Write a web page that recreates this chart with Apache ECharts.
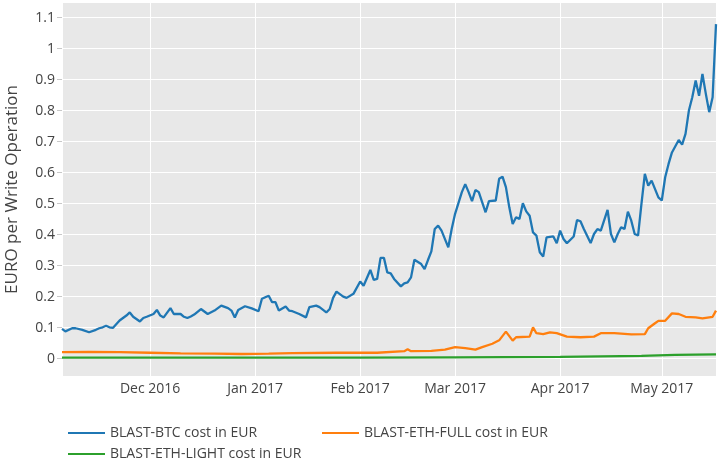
<!DOCTYPE html>
<html lang="en">
<head>
<meta charset="UTF-8">
<title>BLAST cost per write operation</title>
<script src="https://cdn.jsdelivr.net/npm/echarts@6/dist/echarts.min.js"></script>
<style>
    html, body { margin: 0; padding: 0; background: #fff; }
    #main { width: 721px; height: 462px; }
</style>
</head>
<body>
<div id="main"></div>
<script type="text/javascript">
    // BLAST-BTC cost in EUR
    var btcDates = [
        '2016-11-05','2016-11-06','2016-11-08','2016-11-09','2016-11-11','2016-11-13','2016-11-15','2016-11-16','2016-11-17','2016-11-18',
        '2016-11-19','2016-11-20','2016-11-22','2016-11-24','2016-11-25','2016-11-26','2016-11-28','2016-11-29','2016-11-30',
        '2016-12-02','2016-12-03','2016-12-04','2016-12-05','2016-12-07','2016-12-08','2016-12-10','2016-12-11','2016-12-12','2016-12-13',
        '2016-12-14','2016-12-16','2016-12-18','2016-12-20','2016-12-22','2016-12-24','2016-12-25','2016-12-26','2016-12-27','2016-12-29','2016-12-31',
        '2017-01-02','2017-01-03','2017-01-05','2017-01-06','2017-01-07','2017-01-08','2017-01-10','2017-01-11','2017-01-12','2017-01-14',
        '2017-01-16','2017-01-17','2017-01-19','2017-01-20','2017-01-22','2017-01-23','2017-01-24','2017-01-25','2017-01-27','2017-01-28','2017-01-30',
        '2017-02-01','2017-02-02','2017-02-04','2017-02-05','2017-02-06','2017-02-07','2017-02-08','2017-02-09','2017-02-10','2017-02-11',
        '2017-02-13','2017-02-14','2017-02-15','2017-02-16','2017-02-17','2017-02-19','2017-02-20','2017-02-21','2017-02-22','2017-02-23',
        '2017-02-24','2017-02-25','2017-02-27','2017-02-28',
        '2017-03-01','2017-03-03','2017-03-04','2017-03-05','2017-03-06','2017-03-07','2017-03-08','2017-03-10','2017-03-11','2017-03-13',
        '2017-03-14','2017-03-15','2017-03-16','2017-03-17','2017-03-18','2017-03-19','2017-03-20','2017-03-21','2017-03-22','2017-03-23',
        '2017-03-24','2017-03-25','2017-03-26','2017-03-27','2017-03-28','2017-03-30','2017-03-31',
        '2017-04-01','2017-04-02','2017-04-03','2017-04-05','2017-04-06','2017-04-07','2017-04-08','2017-04-10','2017-04-11','2017-04-12',
        '2017-04-13','2017-04-15','2017-04-16','2017-04-17','2017-04-18','2017-04-19','2017-04-20','2017-04-21','2017-04-22','2017-04-23',
        '2017-04-24','2017-04-25','2017-04-26','2017-04-27','2017-04-28','2017-04-30',
        '2017-05-01','2017-05-02','2017-05-03','2017-05-04','2017-05-06','2017-05-07','2017-05-08','2017-05-09','2017-05-10','2017-05-11',
        '2017-05-12','2017-05-13','2017-05-14','2017-05-15','2017-05-16','2017-05-17'
    ];
    var btcCost = [
        0.096,0.088,0.098,0.098,0.093,0.085,0.093,0.098,0.101,0.106,
        0.101,0.099,0.123,0.139,0.149,0.135,0.120,0.131,0.135,
        0.144,0.157,0.139,0.133,0.163,0.144,0.144,0.135,0.131,0.136,
        0.142,0.160,0.144,0.155,0.171,0.163,0.155,0.133,0.157,0.169,0.162,
        0.153,0.193,0.203,0.182,0.182,0.155,0.168,0.155,0.153,0.144,
        0.133,0.166,0.171,0.166,0.149,0.160,0.196,0.216,0.200,0.196,0.209,
        0.249,0.235,0.286,0.254,0.257,0.325,0.325,0.278,0.275,0.257,
        0.233,0.243,0.246,0.262,0.319,0.305,0.289,0.318,0.346,0.418,
        0.429,0.413,0.359,0.418,
        0.467,0.537,0.563,0.537,0.508,0.544,0.537,0.472,0.508,0.510,
        0.580,0.587,0.553,0.488,0.434,0.456,0.450,0.501,0.475,0.461,
        0.407,0.397,0.343,0.329,0.391,0.394,0.372,
        0.413,0.386,0.372,0.394,0.447,0.443,0.418,0.373,0.402,0.418,
        0.413,0.480,0.402,0.375,0.402,0.424,0.418,0.474,0.445,0.402,
        0.397,0.499,0.596,0.558,0.574,0.520,
        0.510,0.585,0.628,0.665,0.705,0.690,0.725,0.800,0.843,0.897,
        0.848,0.918,0.854,0.795,0.843,1.079
    ];

    // BLAST-ETH-FULL cost in EUR
    var ethFullDates = [
        '2016-11-05','2016-11-13','2016-11-22','2016-12-01','2016-12-10','2016-12-20','2016-12-28','2017-01-05','2017-01-12','2017-01-25',
        '2017-02-06','2017-02-14','2017-02-15','2017-02-16','2017-02-22','2017-02-26','2017-03-01','2017-03-04','2017-03-07','2017-03-09',
        '2017-03-12','2017-03-14','2017-03-16','2017-03-18','2017-03-19','2017-03-23','2017-03-24','2017-03-25','2017-03-27','2017-03-29',
        '2017-03-31','2017-04-03','2017-04-07','2017-04-11','2017-04-13','2017-04-17','2017-04-22','2017-04-26','2017-04-27','2017-04-29',
        '2017-04-30','2017-05-02','2017-05-04','2017-05-06','2017-05-08','2017-05-11','2017-05-13','2017-05-16','2017-05-17'
    ];
    var ethFullCost = [
        0.021,0.022,0.021,0.019,0.017,0.016,0.015,0.016,0.018,0.019,
        0.019,0.024,0.030,0.024,0.025,0.029,0.037,0.034,0.029,0.037,
        0.048,0.059,0.087,0.058,0.069,0.071,0.101,0.082,0.079,0.085,
        0.082,0.071,0.069,0.071,0.082,0.082,0.078,0.079,0.098,0.114,
        0.122,0.122,0.146,0.144,0.135,0.133,0.130,0.135,0.155
    ];

    // BLAST-ETH-LIGHT cost in EUR
    var ethLightDates = ['2016-11-05','2016-12-15','2017-02-01','2017-03-01','2017-04-01','2017-04-25','2017-05-05','2017-05-17'];
    var ethLightCost = [0.003,0.003,0.003,0.004,0.006,0.009,0.012,0.014];

    var seriesNames = ['BLAST-BTC cost in EUR', 'BLAST-ETH-FULL cost in EUR', 'BLAST-ETH-LIGHT cost in EUR'];
    var seriesColors = ['#1f77b4', '#ff7f0e', '#2ca02c'];

    var tickMonths = ['2016-12', '2017-01', '2017-02', '2017-03', '2017-04', '2017-05'];
    var tickLabels = ['Dec 2016', 'Jan 2017', 'Feb 2017', 'Mar 2017', 'Apr 2017', 'May 2017'];
    var yTicks = [0, 0.1, 0.2, 0.3, 0.4, 0.5, 0.6, 0.7, 0.8, 0.9, 1, 1.1];

    var xMin = '2016-11-05', xMax = '2017-05-17';
    var yMin = -0.056, yMax = 1.147;

    function toTime(s) {
        return new Date(s + 'T00:00:00').getTime();
    }

    function pairs(dates, values) {
        return dates.map(function (d, i) {
            return [toTime(d), values[i]];
        });
    }

    var font = '"Open Sans", "DejaVu Sans", sans-serif';
    var textColor = '#444';

    var allData = [
        pairs(btcDates, btcCost),
        pairs(ethFullDates, ethFullCost),
        pairs(ethLightDates, ethLightCost)
    ];

    var series = seriesNames.map(function (name, i) {
        return {
            name: name,
            type: 'line',
            data: allData[i],
            symbol: 'none',
            smooth: false,
            z: 3 - i,
            lineStyle: { color: seriesColors[i], width: 2.3 },
            itemStyle: { color: seriesColors[i] }
        };
    });

    // one legend block per entry, so each sits where plotly put it
    function legendAt(name, left, top) {
        return {
            data: [name],
            left: left,
            top: top,
            icon: 'rect',
            itemWidth: 37,
            itemHeight: 2,
            padding: 0,
            textStyle: { color: textColor, fontSize: 14, fontFamily: font }
        };
    }

    var option = {
        animation: false,
        backgroundColor: '#fff',
        grid: {
            left: 62,
            right: 5,
            top: 3,
            bottom: 86,
            containLabel: false,
            outerBoundsMode: 'none',
            show: true,
            backgroundColor: '#e8e8e8',
            borderWidth: 0
        },
        legend: [
            legendAt(seriesNames[0], 68, 426),
            legendAt(seriesNames[1], 322, 426),
            legendAt(seriesNames[2], 68, 447)
        ],
        xAxis: {
            type: 'time',
            min: toTime(xMin),
            max: toTime(xMax),
            splitNumber: 7,
            minInterval: 28 * 86400000,
            maxInterval: 31 * 86400000,
            axisLine: { show: false },
            axisTick: { show: false },
            splitLine: { show: true, lineStyle: { color: '#fff', width: 1 } },
            axisLabel: {
                margin: 6,
                color: textColor,
                fontSize: 14,
                fontFamily: font,
                fontWeight: 'normal',
                formatter: function (value) {
                    var d = new Date(value);
                    var key = d.getFullYear() + '-' + String(d.getMonth() + 1).padStart(2, '0');
                    var i = tickMonths.indexOf(key);
                    return (i >= 0 && d.getDate() === 1) ? tickLabels[i] : '';
                }
            }
        },
        yAxis: {
            type: 'value',
            min: yMin,
            max: yMax,
            name: 'EURO per Write Operation',
            nameLocation: 'middle',
            nameRotate: 90,
            nameGap: 41,
            nameTextStyle: { color: textColor, fontSize: 17, fontFamily: font },
            axisLine: { show: false },
            axisTick: { show: true, length: 5, customValues: yTicks, lineStyle: { color: '#c8c8c8' } },
            splitLine: { show: true, lineStyle: { color: '#fff', width: 1 } },
            axisLabel: {
                margin: 7,
                color: textColor,
                fontSize: 14,
                fontFamily: font,
                customValues: yTicks,
                formatter: function (v) {
                    return String(Math.round(v * 10) / 10);
                }
            }
        },
        series: series
    };

    var myChart = echarts.init(document.getElementById('main'), null, { renderer: 'canvas' });
    myChart.setOption(option);
</script>
</body>
</html>
